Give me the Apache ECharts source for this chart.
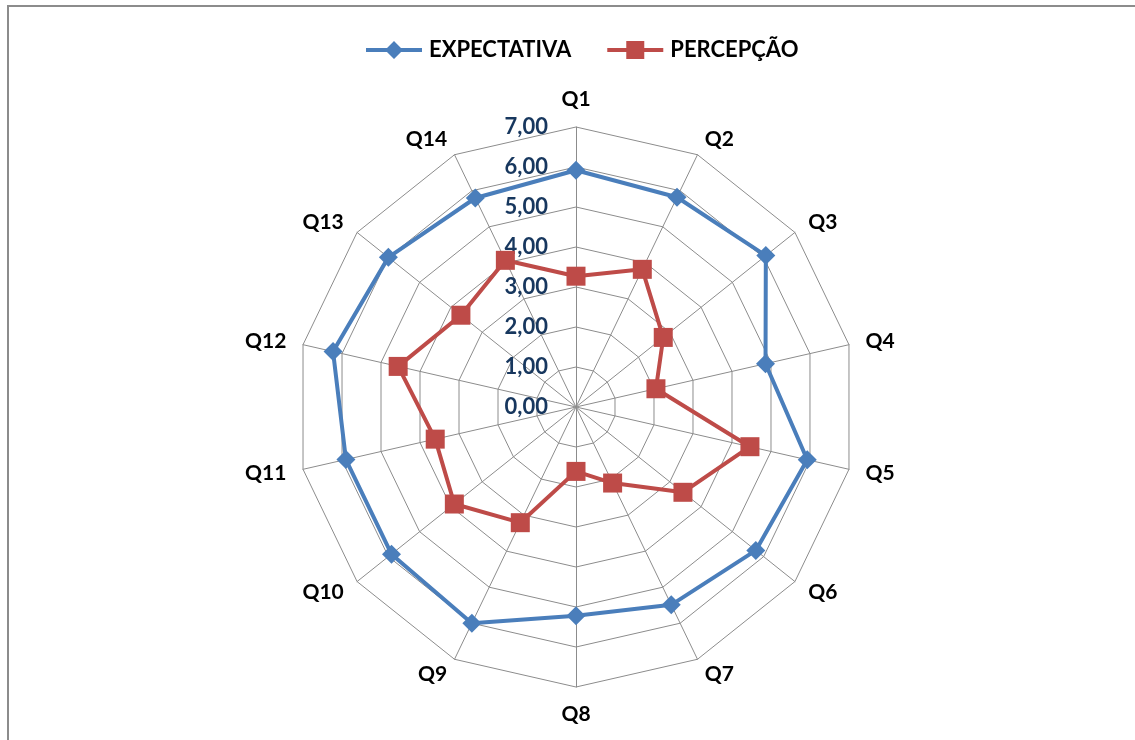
<!DOCTYPE html>
<html>
<head>
<meta charset="utf-8">
<script src="https://cdn.jsdelivr.net/npm/echarts@6/dist/echarts.min.js"></script>
<style>
  html, body { margin: 0; padding: 0; background: #ffffff; }
  #frame { position: absolute; left: 7px; top: 5px; width: 1140px; height: 750px;
           border-left: 2px solid #8c8c8c; border-top: 2px solid #8c8c8c; }
  #chart { position: absolute; left: 0; top: 0; width: 1135px; height: 740px; }
</style>
</head>
<body>
<div id="frame"></div>
<div id="chart"></div>
<script>
// Survey questions and mean scores (0–7 scale)
const questions = ['Q1','Q2','Q3','Q4','Q5','Q6','Q7','Q8','Q9','Q10','Q11','Q12','Q13','Q14'];
const expectativa = [5.92, 5.82, 6.07, 4.86, 5.93, 5.75, 5.49, 5.22, 6.00, 5.90, 5.90, 6.23, 6.00, 5.80];
const percepcao   = [3.27, 3.82, 2.79, 2.05, 4.46, 3.42, 2.11, 1.61, 3.21, 3.89, 3.61, 4.56, 3.68, 4.07];
const scaleMax = 7;

const BLUE = '#4a7ebb';
const RED = '#be4b48';
const FONT = 'Lato';

// Radar runs counter-clockwise, so list the questions Q1, Q14, Q13, ... Q2
const order = [0].concat(questions.map((_, i) => i).slice(1).reverse());
const pick = arr => order.map(i => arr[i]);

const fmt = v => Number(v).toFixed(2).replace('.', ',');

const indicators = order.map((i, k) => {
  const ind = { name: questions[i], max: scaleMax, min: 0 };
  if (k === 0) {
    // only the vertical axis carries the scale labels
    ind.axisLabel = {
      show: true, formatter: fmt, color: '#17375e',
      fontFamily: FONT, fontWeight: 'bold', fontSize: 22, margin: 28
    };
  }
  return ind;
});

// Legend keys: a line with the series marker in the middle
const ICON_DIAMOND = 'path://M0,7H56V11H0Z M28,0L37,9L28,18L19,9Z';
const ICON_SQUARE  = 'path://M0,7H56V11H0Z M19,0H37V18H19Z';

const chart = echarts.init(document.getElementById('chart'), null, { renderer: 'canvas' });
chart.setOption({
  animation: false,
  legend: {
    top: 34, left: 361,
    itemWidth: 56, itemHeight: 18, itemGap: 36,
    textStyle: { fontFamily: FONT, fontWeight: 'bold', fontSize: 22, color: '#000', padding: [0, 0, 0, 2] },
    data: [
      { name: 'EXPECTATIVA', icon: ICON_DIAMOND },
      { name: 'PERCEPÇÃO', icon: ICON_SQUARE }
    ]
  },
  radar: {
    center: [576, 407],
    radius: 280,
    shape: 'polygon',
    splitNumber: 7,
    nameGap: 17,
    axisName: { color: '#000', fontFamily: FONT, fontWeight: 'bold', fontSize: 21 },
    axisLine: { lineStyle: { color: '#8c8c8c', width: 1 } },
    splitLine: { lineStyle: { color: '#8c8c8c', width: 1 } },
    splitArea: { show: false },
    axisTick: { show: false },
    axisLabel: { show: false },
    indicator: indicators
  },
  series: [{
    type: 'radar',
    data: [
      {
        name: 'EXPECTATIVA', value: pick(expectativa),
        symbol: 'diamond', symbolSize: 19,
        lineStyle: { color: BLUE, width: 4 },
        itemStyle: { color: BLUE }
      },
      {
        name: 'PERCEPÇÃO', value: pick(percepcao),
        symbol: 'rect', symbolSize: 19,
        lineStyle: { color: RED, width: 4 },
        itemStyle: { color: RED }
      }
    ]
  }]
});
</script>
</body>
</html>
